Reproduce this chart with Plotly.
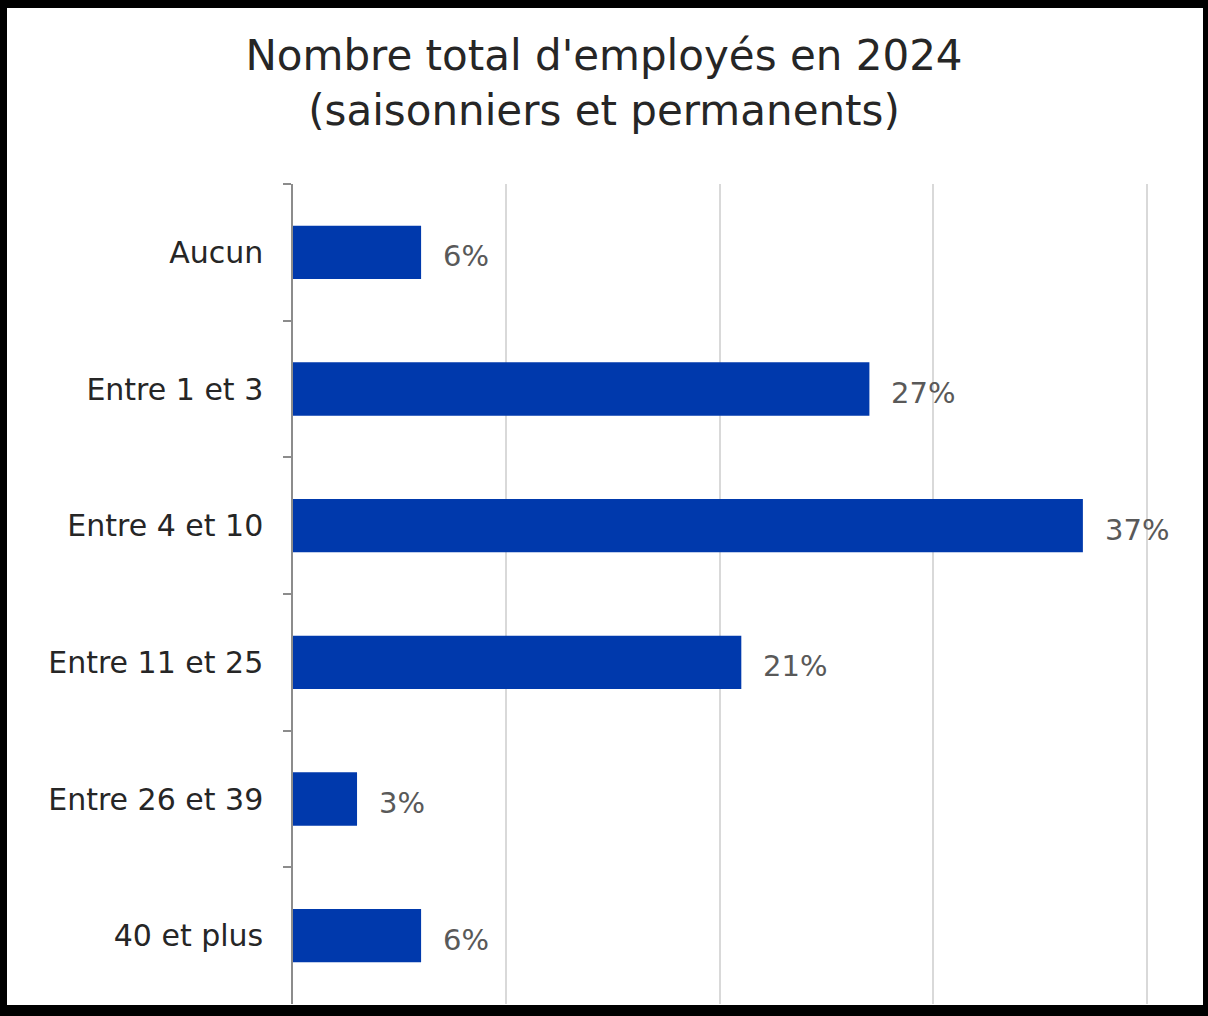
import plotly.graph_objects as go

# Staff-size categories and share of respondents (%)
categories = ["Aucun", "Entre 1 et 3", "Entre 4 et 10", "Entre 11 et 25", "Entre 26 et 39", "40 et plus"]
shares = [6, 27, 37, 21, 3, 6]
grid_ticks = [10, 20, 30, 40]

W, H = 1208, 1016
L, R, T, B = 293, 60, 184, 12
FONT = "DejaVu Sans"

fig = go.Figure()
fig.add_trace(go.Bar(
    x=shares,
    y=categories,
    orientation="h",
    width=0.39,
    marker=dict(color="#0039AC", line=dict(width=0)),
    hoverinfo="skip",
))

# value labels to the right of each bar
for cat, val in zip(categories, shares):
    fig.add_annotation(
        x=val, y=cat, text=f"{val}%", showarrow=False,
        xanchor="left", xshift=20, yshift=-4,
        font=dict(family=FONT, size=29, color="#595959"),
    )

# black frame around the whole figure (in paper units of the plot area)
pw, ph = W - L - R, H - T - B


def px_x(v):
    return (v - L) / pw


def px_y(v):
    return (H - B - v) / ph


frame = [(0, 0, 7, H), (0, 0, W, 8), (1203, 0, W, H), (0, 1005, W, H)]
for x0, y0, x1, y1 in frame:
    fig.add_shape(type="rect", xref="paper", yref="paper",
                  x0=px_x(x0), x1=px_x(x1), y0=px_y(y1), y1=px_y(y0),
                  fillcolor="black", line=dict(width=0), layer="above")

fig.update_layout(
    width=W, height=H,
    margin=dict(l=L, r=R, t=T, b=B),
    paper_bgcolor="white", plot_bgcolor="white",
    showlegend=False,
    title=dict(
        text="Nombre total d'employés en 2024<br>(saisonniers et permanents)",
        x=0.5, xanchor="center", xref="container",
        y=1 - 70 / H, yanchor="top", yref="container",
        font=dict(family=FONT, size=42, color="#262626"),
    ),
    xaxis=dict(
        range=[0, 40.05], tickvals=grid_ticks, showticklabels=False,
        showgrid=True, gridcolor="#D9D9D9", gridwidth=1.5,
        zeroline=False, showline=False, fixedrange=True,
    ),
    yaxis=dict(
        categoryorder="array", categoryarray=categories, autorange="reversed",
        showline=True, linecolor="#8C8C8C", linewidth=1.5,
        ticks="outside", tickson="boundaries", ticklen=8, tickcolor="#8C8C8C", tickwidth=1.5,
        ticklabelstandoff=22,
        tickfont=dict(family=FONT, size=30, color="#262626"),
        showgrid=False, fixedrange=True,
    ),
)

fig.write_html("out.html")
